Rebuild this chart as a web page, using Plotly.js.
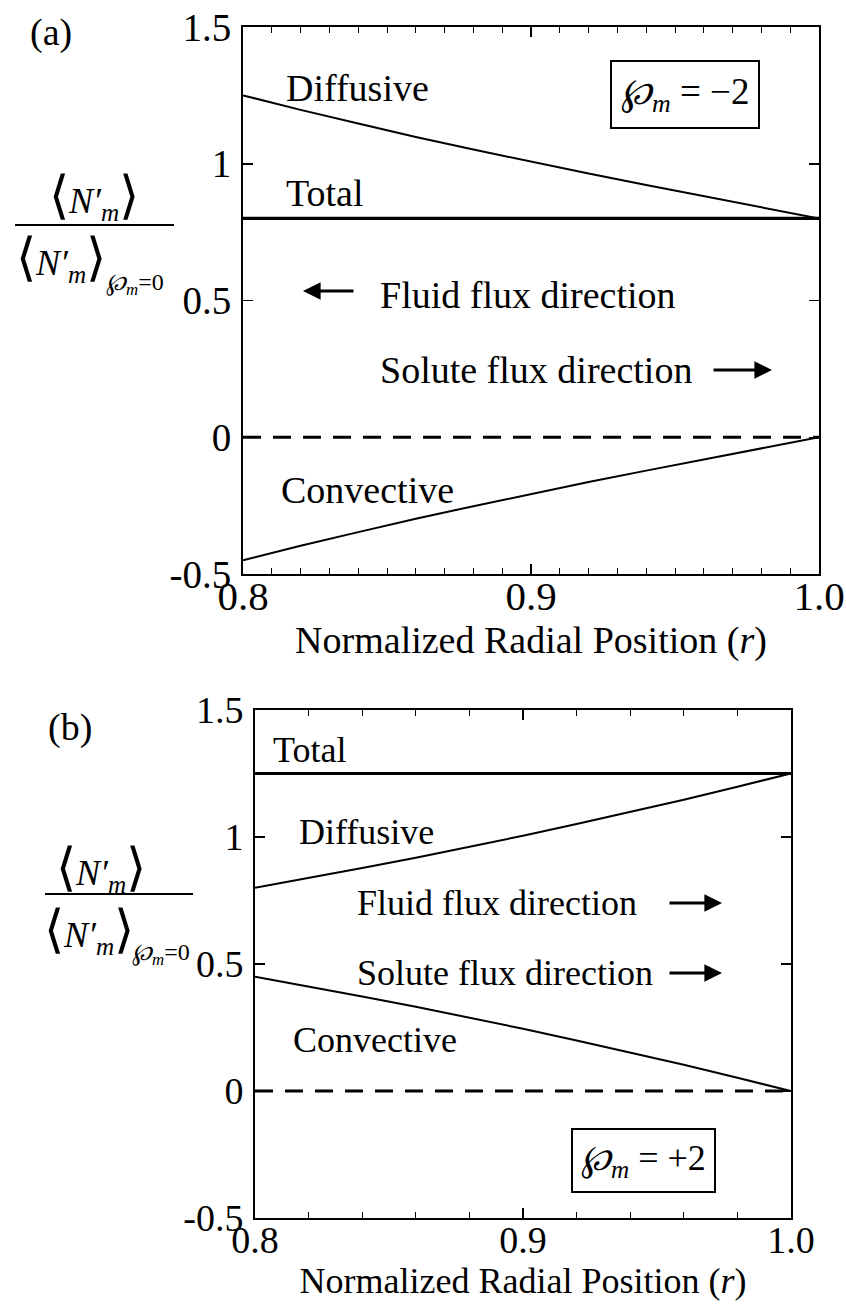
<!DOCTYPE html>
<html><head><meta charset="utf-8">
<script src="https://cdn.plot.ly/plotly-3.0.1.min.js"></script>
<style>html,body{margin:0;padding:0;background:#fff}#chart{width:846px;height:1307px}</style>
</head><body><div id="chart"></div>
<script>
// ---- data ----
const rPos = [0.80,0.82,0.84,0.86,0.88,0.90,0.92,0.94,0.96,0.98,1.00];
const rEnds = [0.80, 1.00];
// (a) P_m = -2
const diffusiveA  = [1.25,1.197,1.147,1.098,1.052,1.007,0.964,0.922,0.881,0.840,0.80];
const convectiveA = [-0.45,-0.397,-0.347,-0.298,-0.252,-0.207,-0.164,-0.122,-0.081,-0.040,0.0];
const totalA = [0.80, 0.80];
// (b) P_m = +2
const diffusiveB  = [0.80,0.838,0.878,0.918,0.961,1.005,1.051,1.098,1.147,1.198,1.25];
const convectiveB = [0.45,0.412,0.372,0.332,0.289,0.245,0.199,0.152,0.103,0.052,0.0];
const totalB = [1.25, 1.25];
const zeroLine = [0, 0];
const xTickVals = [0.8, 0.9, 1.0];
const xTickText = ["0.8", "0.9", "1.0"];
const yTickVals = [-0.5, 0, 0.5, 1, 1.5];
const yTickText = ["-0.5", "0", "0.5", "1", "1.5"];

const W = 846, H = 1307;
const FONT = "Liberation Serif, 'Times New Roman', serif";
const px = v => v / W;
const py = v => 1 - v / H;

function line(x, y, xa, ya, width, dash) {
  return {x: x, y: y, xaxis: xa, yaxis: ya, type: 'scatter', mode: 'lines',
          line: {color: '#000', width: width, dash: dash || 'solid'},
          hoverinfo: 'skip', showlegend: false};
}

const data = [
  line(rPos, diffusiveA, 'x', 'y', 2),
  line(rPos, convectiveA, 'x', 'y', 2),
  line(rEnds, totalA, 'x', 'y', 3.2),
  line(rEnds, zeroLine, 'x', 'y', 3, '18px,12px'),
  line(rPos, diffusiveB, 'x2', 'y2', 2),
  line(rPos, convectiveB, 'x2', 'y2', 2),
  line(rEnds, totalB, 'x2', 'y2', 3.2),
  line(rEnds, zeroLine, 'x2', 'y2', 3, '18px,12px')
];

function xAxis(domain, anchor, fs, tfs, minorDtick, standoff) {
  return {
    domain: domain, anchor: anchor, range: [0.8, 1.0],
    tickvals: xTickVals, ticktext: xTickText,
    ticks: 'inside', ticklen: 10, tickwidth: 1.5, tickcolor: '#000',
    minor: {dtick: minorDtick, tick0: 0.8, ticks: 'inside', ticklen: 6, tickwidth: 1, tickcolor: '#000'},
    showline: true, linecolor: '#000', linewidth: 2, mirror: 'ticks',
    showgrid: false, zeroline: false, fixedrange: true,
    tickfont: {family: FONT, size: fs, color: '#000'},
    ticklabelstandoff: standoff,
    title: {text: 'Normalized Radial Position (<i>r</i>)', font: {family: FONT, size: tfs, color: '#000'}, standoff: 0},
    automargin: false
  };
}
function yAxis(domain, anchor, fs) {
  return {
    domain: domain, anchor: anchor, range: [-0.5, 1.5],
    tickvals: yTickVals, ticktext: yTickText,
    ticks: 'inside', ticklen: 10, tickwidth: 1.5, tickcolor: '#000',
    showline: true, linecolor: '#000', linewidth: 2, mirror: 'ticks',
    showgrid: false, zeroline: false, fixedrange: true,
    tickfont: {family: FONT, size: fs, color: '#000'},
    ticklabelstandoff: 2,
    automargin: false
  };
}

function txt(x, y, s, fs, xanchor, xref, yref) {
  return {x: x, y: y, xref: xref || 'paper', yref: yref || 'paper', text: s, showarrow: false,
          xanchor: xanchor || 'left', yanchor: 'middle',
          font: {family: FONT, size: fs, color: '#000'}};
}
function arrow(x0, y0, x1, y1) {
  // from pixel (x0,y0) to head at pixel (x1,y1)
  return {x: px(x1), y: py(y1), xref: 'paper', yref: 'paper', ax: x0 - x1, ay: y0 - y1,
          axref: 'pixel', ayref: 'pixel', text: '', showarrow: true,
          arrowhead: 2, arrowsize: 1.1, arrowwidth: 3.2, arrowcolor: '#000'};
}
const BR = s => '<span style="font-size:52px">' + s + '</span>';
const NUM = BR('⟨') + '<i>N′</i><sub><i>m</i></sub>' + BR('⟩');
const SUBL = '<i>℘</i><sub><i>m</i></sub>=0';

const annotations = [
  txt(px(28), py(32), '(a)', 38),
  txt(px(46), py(727), '(b)', 38),
  // fraction (a)
  txt(px(94), py(196), NUM, 36, 'center'),
  txt(px(14), py(258), NUM, 36, 'left'),
  txt(px(104), py(284), SUBL, 24, 'left'),
  // fraction (b)
  txt(px(101), py(868), NUM, 36, 'center'),
  txt(px(42), py(930), NUM, 36, 'left'),
  txt(px(130), py(954), SUBL, 24, 'left'),
  // labels (a)
  txt(px(284), py(88), 'Diffusive', 38),
  txt(px(284), py(193), 'Total', 38),
  txt(px(378), py(295), 'Fluid flux direction', 38),
  txt(px(378), py(370), 'Solute flux direction', 38),
  txt(px(279), py(490), 'Convective', 38),
  arrow(355, 291, 303, 291),
  arrow(712, 370, 772, 370),
  {x: px(685), y: py(95), xref: 'paper', yref: 'paper', showarrow: false,
   text: '<i>℘</i><sub><i>m</i></sub> = −2', font: {family: FONT, size: 37, color: '#000'},
   bordercolor: '#000', borderwidth: 2, borderpad: 9, xanchor: 'center', yanchor: 'middle'},
  // labels (b)
  txt(px(271), py(750), 'Total', 36),
  txt(px(297), py(832), 'Diffusive', 36),
  txt(px(355), py(903), 'Fluid flux direction', 36),
  txt(px(355), py(973), 'Solute flux direction', 36),
  txt(px(291), py(1040), 'Convective', 36),
  arrow(668, 903, 722, 903),
  arrow(668, 973, 722, 973),
  {x: px(643), y: py(1160), xref: 'paper', yref: 'paper', showarrow: false,
   text: '<i>℘</i><sub><i>m</i></sub> = +2', font: {family: FONT, size: 36, color: '#000'},
   bordercolor: '#000', borderwidth: 2, borderpad: 8, xanchor: 'center', yanchor: 'middle'}
];

const shapes = [
  {type: 'line', xref: 'paper', yref: 'paper', x0: px(15), x1: px(174), y0: py(225), y1: py(225), line: {color: '#000', width: 2}},
  {type: 'line', xref: 'paper', yref: 'paper', x0: px(45), x1: px(193), y0: py(894), y1: py(894), line: {color: '#000', width: 2}}
];

const layout = {
  width: W, height: H,
  margin: {l: 0, r: 0, t: 0, b: 0},
  paper_bgcolor: '#fff', plot_bgcolor: '#fff',
  showlegend: false,
  xaxis: xAxis([243 / W, 819 / W], 'y', 41, 38, 0.01, -15),
  yaxis: yAxis([1 - 574 / H, 1 - 27 / H], 'x', 39),
  xaxis2: xAxis([255 / W, 791 / W], 'y2', 38, 36, 0.02, -13),
  yaxis2: yAxis([1 - 1218 / H, 1 - 710 / H], 'x2', 38),
  annotations: annotations,
  shapes: shapes
};

Plotly.newPlot('chart', data, layout, {staticPlot: true, displayModeBar: false});
</script>
</body></html>
